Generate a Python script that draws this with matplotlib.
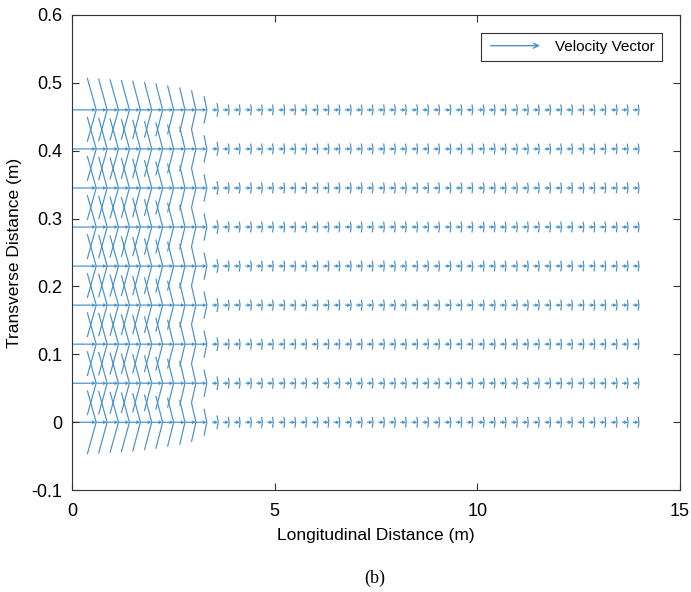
import numpy as np
import matplotlib
matplotlib.use("Agg")
import matplotlib.pyplot as plt
from matplotlib.patches import FancyArrowPatch
from matplotlib.legend_handler import HandlerPatch

# grid rows (transverse, m) and columns (longitudinal, m)
row_y = [0.0, 0.0575, 0.115, 0.1725, 0.23, 0.2875, 0.345, 0.4025, 0.46]
col_x = [0.60, 0.87, 1.15, 1.42, 1.69, 1.97, 2.24, 2.51, 2.79, 3.06,
         3.33, 3.61, 3.88, 4.15, 4.43, 4.70, 4.97, 5.25, 5.52, 5.79,
         6.07, 6.34, 6.61, 6.89, 7.16, 7.43, 7.71, 7.98, 8.25, 8.53,
         8.80, 9.07, 9.35, 9.62, 9.89, 10.17, 10.44, 10.71, 10.99, 11.26,
         11.53, 11.81, 12.08, 12.35, 12.63, 12.90, 13.17, 13.45, 13.72, 13.99]

# longitudinal component of each column's vector
flow_u = [0.60, 0.27, 0.28, 0.27, 0.27, 0.28, 0.27, 0.27, 0.28, 0.27,
          0.27, 0.15, 0.15, 0.15, 0.15, 0.15, 0.15, 0.15, 0.15, 0.15,
          0.15, 0.15, 0.15, 0.15, 0.15, 0.15, 0.15, 0.15, 0.15, 0.15,
          0.15, 0.15, 0.15, 0.15, 0.15, 0.15, 0.15, 0.15, 0.15, 0.15,
          0.15, 0.15, 0.15, 0.15, 0.15, 0.15, 0.15, 0.15, 0.15, 0.15]

# transverse spread at each column
spread_v = [0.047, 0.046, 0.045, 0.044, 0.043, 0.041, 0.039, 0.036, 0.033, 0.029,
            0.020, 0.010, 0.008, 0.008, 0.008, 0.008, 0.008, 0.008, 0.008, 0.008,
            0.008, 0.008, 0.008, 0.008, 0.008, 0.008, 0.008, 0.008, 0.008, 0.008,
            0.008, 0.008, 0.008, 0.008, 0.008, 0.008, 0.008, 0.008, 0.008, 0.008,
            0.008, 0.008, 0.008, 0.008, 0.008, 0.008, 0.008, 0.008, 0.008, 0.008]
spread_u = [0.22, 0.21, 0.21, 0.20, 0.19, 0.18, 0.17, 0.15, 0.13, 0.11,
            0.07, 0.03, 0.02, 0.02, 0.02, 0.02, 0.02, 0.02, 0.02, 0.02,
            0.02, 0.02, 0.02, 0.02, 0.02, 0.02, 0.02, 0.02, 0.02, 0.02,
            0.02, 0.02, 0.02, 0.02, 0.02, 0.02, 0.02, 0.02, 0.02, 0.02,
            0.02, 0.02, 0.02, 0.02, 0.02, 0.02, 0.02, 0.02, 0.02, 0.02]

color = "#4a93c9"
plt.rcParams["font.family"] = ["Liberation Sans", "DejaVu Sans"]

X, Y = np.meshgrid(col_x, row_y)
U = np.tile(flow_u, (len(row_y), 1))
SV = np.tile(spread_v, (len(row_y), 1))
SU = np.tile(spread_u, (len(row_y), 1))

fig = plt.figure(figsize=(6.91, 5.92), dpi=100)
ax = fig.add_axes([0.104, 0.172, 0.880, 0.803])

qkw = dict(angles="xy", scale_units="xy", scale=1, color=color)
ax.quiver(X, Y, U, np.zeros_like(U), pivot="tip", width=0.002,
          headwidth=3.2, headlength=3.5, headaxislength=3.2, **qkw)
nohead = dict(width=0.002, headwidth=0, headlength=0, headaxislength=0, pivot="tail")
ax.quiver(X, Y, -SU, SV, **nohead, **qkw)
ax.quiver(X, Y, -SU, -SV, **nohead, **qkw)

ax.set_xlim(0, 15)
ax.set_ylim(-0.1, 0.6)
ax.set_xticks([0, 5, 10, 15])
ax.set_yticks([-0.1, 0, 0.1, 0.2, 0.3, 0.4, 0.5, 0.6])
ax.set_yticklabels(["-0.1", "0", "0.1", "0.2", "0.3", "0.4", "0.5", "0.6"])
ax.tick_params(direction="in", top=True, right=True, labelsize=13,
               color="#333333", length=5)
ax.tick_params(axis="x", pad=9)
ax.tick_params(axis="y", pad=7)
for s in ax.spines.values():
    s.set_color("#333333")
ax.set_xlabel("Longitudinal Distance (m)", fontsize=12.5, labelpad=6)
ax.set_ylabel("Transverse Distance (m)", fontsize=12.5, labelpad=7)


class ArrowHandler(HandlerPatch):
    def create_artists(self, legend, orig, xd, yd, w, h, fs, trans):
        a = FancyArrowPatch((-xd, h / 2 - yd), (w - xd, h / 2 - yd),
                            arrowstyle="->", mutation_scale=9,
                            color=color, lw=1.0, transform=trans)
        return [a]


proxy = FancyArrowPatch((0, 0), (1, 0))
leg = ax.legend([proxy], ["Velocity Vector"], handler_map={FancyArrowPatch: ArrowHandler()},
                loc="upper right", fontsize=11, fancybox=False, framealpha=1,
                edgecolor="#333333", handlelength=3.6, borderaxespad=1.2,
                borderpad=0.45)
leg.get_frame().set_linewidth(0.8)

fig.text(0.543, 0.015, "(b)", fontsize=13, family="Liberation Serif", ha="center")

fig.savefig("out.png", dpi=100)
